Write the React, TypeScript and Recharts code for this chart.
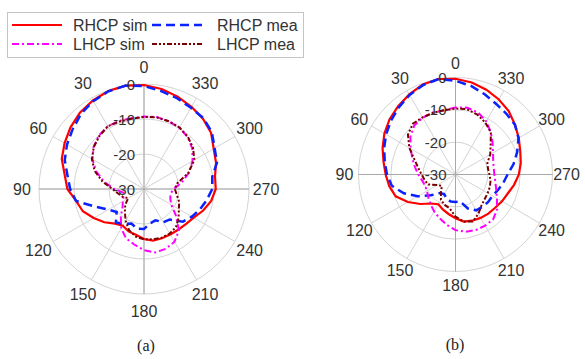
import { RadarChart, Radar, PolarGrid, PolarAngleAxis, PolarRadiusAxis } from "recharts";

// angle in degrees, counter-clockwise from the top
const angles = [
  0, 10, 20, 30, 40, 50, 60, 70, 80, 90, 100, 110, 120, 130, 140, 150, 160, 170,
  180, 190, 200, 210, 220, 230, 240, 250, 260, 270, 280, 290, 300, 310, 320, 330, 340, 350,
];
const angleLabels = [0, 30, 60, 90, 120, 150, 180, 210, 240, 270, 300, 330];
const radiusTicks = [-30, -20, -10, 0];

// (a)
const rhcpSimA = [0, -0.2, -0.8, -1.5, -2.6, -3.8, -5, -7, -8.1, -10.3, -11.4, -13.4, -15.2, -17.1, -17.9, -17.1, -16.7, -15.7,
  -15, -15, -15, -14.8, -14.4, -13.6, -12, -10.5, -9.5, -9.4, -8.1, -7, -5, -3.8, -2.9, -1.9, -1, -0.3];
const rhcpMeaA = [0, -0.3, -1.0, -2.0, -3.4, -4.6, -5.9, -7.8, -8.9, -10.3, -15.2, -18.2, -19.8, -17.5, -18.5, -19.5, -18.5, -18.6,
  -20, -20.5, -19, -18.6, -15.5, -14.2, -13, -11.8, -10.5, -10.2, -7.8, -6.7, -4.7, -3.6, -3.2, -2.4, -1.6, -0.6];
const lhcpSimA = [-9.5, -9.3, -9.3, -10, -11.2, -13, -15.5, -18.5, -21.5, -24, -23.8, -23, -22, -19.7, -17, -15, -13.9, -12.5,
  -11.6, -11.8, -12.6, -14.5, -18, -21, -22, -22.3, -21.5, -19, -16.3, -14, -12, -10.6, -9.8, -9.4, -9.1, -9.3];
const lhcpMeaA = [-9.6, -9.5, -9.3, -10.2, -11.3, -12.8, -15, -18, -21, -22.5, -23.5, -24.8, -23, -21.5, -19.5, -17.5, -16.2, -15.6,
  -15.4, -15.2, -15.3, -15.8, -17.1, -18.5, -19.3, -20.5, -21.2, -20.3, -16.5, -13.4, -11.7, -10.5, -9.7, -9.4, -9.2, -9.4];

// (b)
const rhcpSimB = [0, -0.4, -1.4, -2.4, -3.4, -4.6, -6.0, -7.4, -8.4, -9.2, -10.3, -13, -15.8, -18.3, -19.4, -18.5, -17.6, -16.5,
  -15.2, -14.8, -14.5, -14.2, -14, -13.4, -12.8, -11.6, -10.4, -9.5, -8.7, -7.4, -6.0, -4.4, -3.2, -2.1, -1.1, -0.4];
const rhcpMeaB = [0, -0.6, -1.6, -2.8, -4.0, -5.2, -6.5, -7.8, -8.8, -10, -13, -16.5, -20, -22.5, -23, -22, -21.5, -21.5,
  -21.5, -18.8, -17.2, -17, -16.8, -16.8, -16, -15, -13.9, -11.8, -9.7, -7.5, -6, -5.5, -4.8, -3.6, -2.2, -1];
const lhcpSimB = [-9.8, -9.6, -9.7, -10.2, -11.8, -14, -15.8, -17.3, -18.5, -19.5, -20, -19.8, -19, -18, -16.8, -15.6, -14.2, -12.8,
  -12, -11.7, -11.7, -11.9, -13.2, -15.2, -16.6, -17.5, -18, -18, -17.6, -16.6, -15, -13, -11, -9.6, -9, -9.3];
const lhcpMeaB = [-9.8, -9.7, -9.6, -9.5, -10.8, -13.5, -16.5, -18.3, -19.5, -20.3, -21, -23.5, -24.5, -23, -21, -20, -19.4, -17,
  -15.2, -14.5, -15.9, -17.5, -18.2, -18.5, -18.7, -19, -19.5, -19.8, -19.5, -17.6, -15.8, -13, -11.5, -10.3, -9.5, -9.6];

const series = [
  { key: "rhcpSim", name: "RHCP sim", color: "#ff0000", dash: undefined, width: 2.2 },
  { key: "rhcpMea", name: "RHCP mea", color: "#0a22ff", dash: "9 5", width: 2.5 },
  { key: "lhcpSim", name: "LHCP sim", color: "#ff00ff", dash: "7 3 2 3", width: 2 },
  { key: "lhcpMea", name: "LHCP mea", color: "#7a0000", dash: "5 2 2 2 2 2", width: 2 },
];

const buildRows = (r: number[], b: number[], m: number[], d: number[]) =>
  angles.map((a, i) => ({ angle: a, rhcpSim: r[i], rhcpMea: b[i], lhcpSim: m[i], lhcpMea: d[i] }));

const dataA = buildRows(rhcpSimA, rhcpMeaA, lhcpSimA, lhcpMeaA);
const dataB = buildRows(rhcpSimB, rhcpMeaB, lhcpSimB, lhcpMeaB);

const FONT = "'Liberation Sans', Arial, sans-serif";

type PlotProps = {
  data: any[];
  width: number;
  height: number;
  cx: number;
  cy: number;
  radius: number;
  labelRadius: number;
};

const PolarPlot = ({ data, width, height, cx, cy, radius, labelRadius }: PlotProps) => {
  // place the angle labels ourselves (0 at top, counter-clockwise)
  const angleTick = (props: any) => {
    const v = Number(props.payload.value);
    if (!angleLabels.includes(v)) return <g />;
    const rad = ((90 + v) * Math.PI) / 180;
    return (
      <text x={cx + Math.cos(rad) * labelRadius} y={cy - Math.sin(rad) * labelRadius} textAnchor="middle"
        dominantBaseline="central" fontSize={16} fontFamily={FONT} fill="#333">
        {v}
      </text>
    );
  };

  const radiusTick = (props: any) => {
    const { x, y, payload } = props;
    return (
      <text x={x - 9} y={y} textAnchor="end" dominantBaseline="central" fontSize={15} fontFamily={FONT} fill="#333">
        {payload.value}
      </text>
    );
  };

  return (
    <RadarChart width={width} height={height} data={data} cx={cx} cy={cy} outerRadius={radius}
      startAngle={90} endAngle={450} margin={{ top: 0, right: 0, bottom: 0, left: 0 }}>
      <PolarGrid gridType="circle" stroke="#d4d4d4" polarAngles={angleLabels.map((a) => 90 + a)} />
      <PolarGrid gridType="circle" stroke="#a8a8a8" polarAngles={[90, 180, 270, 360]} polarRadius={[]} />
      <PolarAngleAxis dataKey="angle" tick={angleTick} tickLine={false} axisLine={false} />
      <PolarRadiusAxis angle={90} type="number" domain={[-30, 0]} ticks={radiusTicks} tickCount={4}
        axisLine={false} tick={radiusTick} />
      {series.map((s) => (
        <Radar key={s.key} dataKey={s.key} name={s.name} stroke={s.color} strokeWidth={s.width}
          strokeDasharray={s.dash} fill="none" fillOpacity={0} dot={false} isAnimationActive={false} />
      ))}
    </RadarChart>
  );
};

const LegendBox = () => (
  <svg width={298} height={47} style={{ position: "absolute", left: 7, top: 12 }}>
    <rect x={0.5} y={0.5} width={296} height={45} fill="#fff" stroke="#c4c4c4" />
    {series.map((s, i) => {
      const col = i % 2;
      const row = Math.floor(i / 2);
      const x0 = col === 0 ? 5 : 145;
      const y0 = row === 0 ? 13 : 32;
      return (
        <g key={s.key}>
          <line x1={x0} x2={x0 + 50} y1={y0} y2={y0} stroke={s.color} strokeWidth={s.width} strokeDasharray={s.dash} />
          <text x={col === 0 ? 66 : 210} y={y0} dominantBaseline="central" fontSize={16} fontFamily={FONT} fill="#333">
            {s.name}
          </text>
        </g>
      );
    })}
  </svg>
);

const App = () => {
  return (
    <div style={{ position: "absolute", left: 0, top: 0, width: 585, height: 359, background: "#fff", overflow: "hidden" }}>
      <div style={{ position: "absolute", left: 0, top: 0 }}>
        <PolarPlot data={dataA} width={300} height={340} cx={144} cy={189} radius={105} labelRadius={122} />
      </div>
      <div style={{ position: "absolute", left: 300, top: 0 }}>
        <PolarPlot data={dataB} width={285} height={340} cx={155.5} cy={174.5} radius={97} labelRadius={111} />
      </div>
      <LegendBox />
      <div style={{ position: "absolute", left: 131, top: 337, width: 30, textAlign: "center", fontFamily: "'Liberation Serif', serif", fontSize: 16, color: "#222" }}>
        (a)
      </div>
      <div style={{ position: "absolute", left: 440, top: 336, width: 30, textAlign: "center", fontFamily: "'Liberation Serif', serif", fontSize: 16, color: "#222" }}>
        (b)
      </div>
    </div>
  );
};

export default App;
